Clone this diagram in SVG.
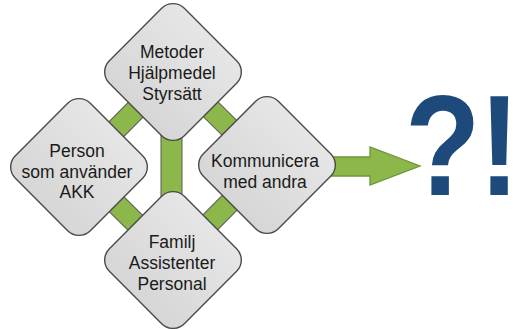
<svg xmlns="http://www.w3.org/2000/svg" width="513" height="329" viewBox="0 0 513 329">
  <defs>
    <linearGradient id="tileFill" x1="0" y1="0" x2="0" y2="1">
      <stop offset="0" stop-color="#e6e6e6"/>
      <stop offset="1" stop-color="#d6d6d6"/>
    </linearGradient>
    <style>
      .tile { fill: url(#tileFill); stroke: #4a4a4a; stroke-width: 1.4; }
      .label { font-family: "Liberation Sans", Arial, sans-serif; font-size: 17.5px; fill: #1a1a1a; text-anchor: middle; }
      .bar-edge { stroke: #5a5a5a; stroke-width: 22; fill: none; }
      .bar-fill { stroke: #8cb74b; stroke-width: 20; fill: none; }
      .arrow { fill: #8cb74b; stroke: #6c9637; stroke-width: 1.3; stroke-linejoin: miter; }
      .mark { font-family: "Liberation Sans", Arial, sans-serif; font-weight: bold; font-size: 142px; fill: #1e4a7b; letter-spacing: -2px; }
    </style>
  </defs>

  <rect width="513" height="329" fill="#ffffff"/>

  <!-- connecting bars between the four tiles, plus the outgoing arrow -->
  <g id="connectors">
    <g class="bar-edge">
      <line x1="173" y1="72" x2="79" y2="167"/>
      <line x1="173" y1="72" x2="267" y2="165"/>
      <line x1="79" y1="167" x2="173" y2="260"/>
      <line x1="267" y1="165" x2="173" y2="260"/>
      <line x1="171.5" y1="72" x2="171.5" y2="260"/>
    </g>
    <g class="bar-fill">
      <line x1="173" y1="72" x2="79" y2="167"/>
      <line x1="173" y1="72" x2="267" y2="165"/>
      <line x1="79" y1="167" x2="173" y2="260"/>
      <line x1="267" y1="165" x2="173" y2="260"/>
      <line x1="171.5" y1="72" x2="171.5" y2="260"/>
    </g>
    <polygon class="arrow" points="300,157 370,157 370,147 420,166 370,185 370,176 300,176"/>
  </g>

  <g id="node-metoder">
    <rect class="tile" x="-53" y="-53" width="106" height="106" rx="16" transform="translate(173 72) rotate(45)"/>
    <text class="label" x="172" y="58">Metoder</text>
    <text class="label" x="172" y="79">Hjälpmedel</text>
    <text class="label" x="172" y="100">Styrsätt</text>
  </g>

  <g id="node-person">
    <rect class="tile" x="-53" y="-53" width="106" height="106" rx="16" transform="translate(79 167) rotate(45)"/>
    <text class="label" x="77" y="157">Person</text>
    <text class="label" x="77" y="178">som använder</text>
    <text class="label" x="77" y="198">AKK</text>
  </g>

  <g id="node-kommunicera">
    <rect class="tile" x="-53" y="-53" width="106" height="106" rx="16" transform="translate(267 165) rotate(45)"/>
    <text class="label" x="265" y="167">Kommunicera</text>
    <text class="label" x="265" y="188">med andra</text>
  </g>

  <g id="node-familj">
    <rect class="tile" x="-53" y="-53" width="106" height="106" rx="16" transform="translate(173 260) rotate(45)"/>
    <text class="label" x="172" y="248">Familj</text>
    <text class="label" x="172" y="269">Assistenter</text>
    <text class="label" x="172" y="290">Personal</text>
  </g>

  <g id="node-result">
    <text class="mark" transform="translate(405 195) scale(0.87 1)">?!</text>
  </g>
</svg>
